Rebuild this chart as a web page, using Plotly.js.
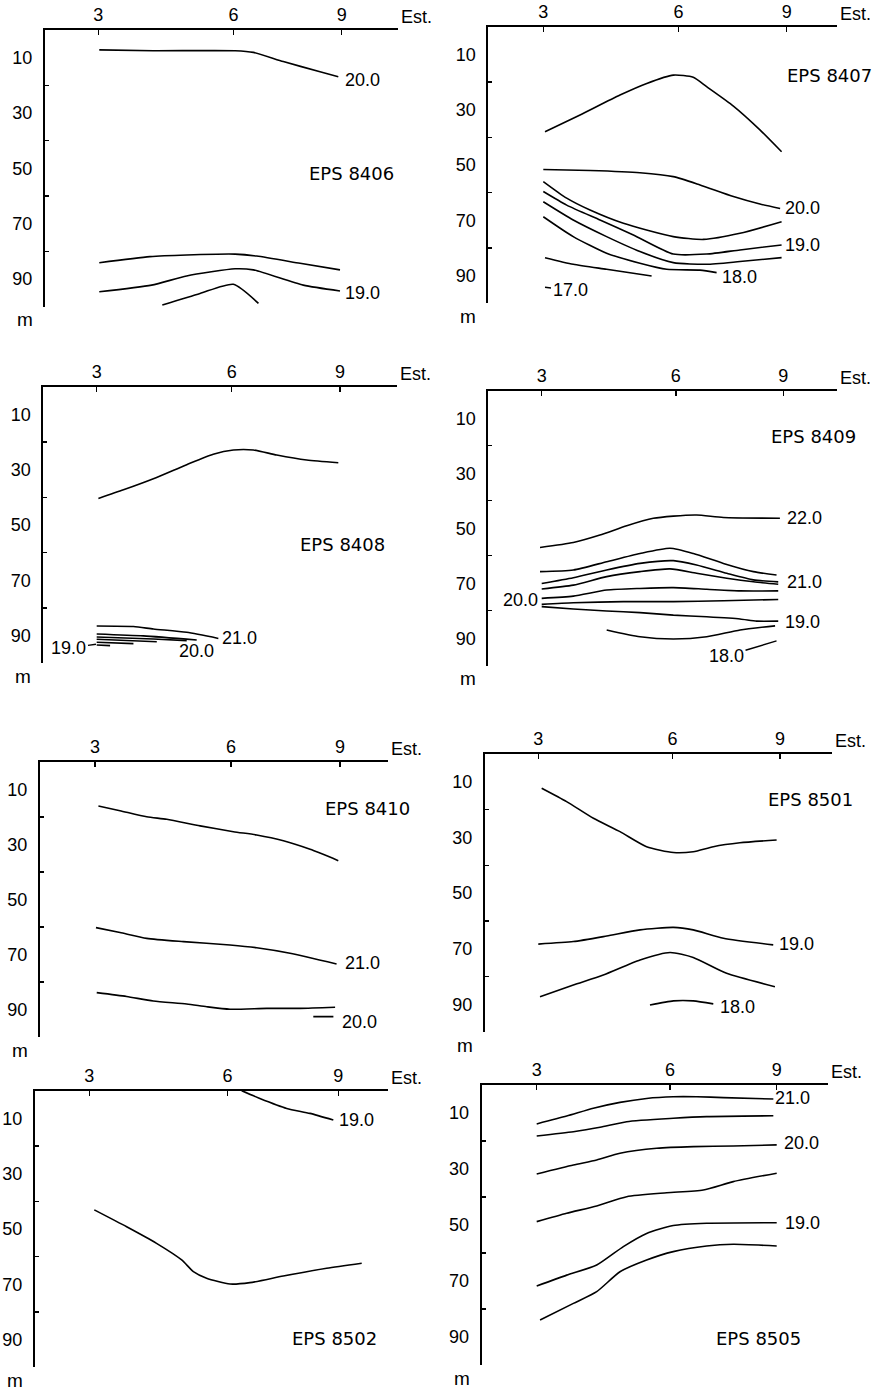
<!DOCTYPE html>
<html><head><meta charset="utf-8">
<script src="https://cdn.plot.ly/plotly-3.0.1.min.js"></script>
<style>html,body{margin:0;padding:0;background:#fff}#chart{width:880px;height:1390px}</style>
</head><body><div id="chart"></div>
<script>
// ---- Axes: stations along the section (position = % of distance station 3 -> station 9), depth in m
const stationLabels = ['3', '6', '9'];
const stationPos = [0, 55.5, 100];
const depthLabels = [10, 30, 50, 70, 90];
const depthMinor = [20, 40, 60, 80];
const cruiseNames = ['EPS 8406', 'EPS 8407', 'EPS 8408', 'EPS 8409', 'EPS 8410', 'EPS 8501', 'EPS 8502', 'EPS 8505'];

// ---- EPS 8406
const e8406_1x = [0.4, 22.6, 56.2, 63.7, 76.0, 91.1, 98.6];
const e8406_1d = [7.2, 7.5, 7.5, 8.1, 11.4, 15.1, 16.9];
const e8406_2x = [0.4, 21.2, 36.3, 56.2, 65.1, 82.9, 99.3];
const e8406_2d = [84.1, 81.9, 81.3, 81.0, 81.7, 84.3, 86.7];
const e8406_3x = [0.4, 21.9, 36.3, 56.2, 63.7, 84.2, 99.3];
const e8406_3d = [94.6, 92.2, 88.9, 86.3, 86.7, 92.2, 94.3];
const e8406_4x = [26.3, 41.8, 55.5, 65.8];
const e8406_4d = [99.4, 95.2, 91.9, 98.8];
const e8406_labT = ['20.0', '19.0'];
const e8406_labX = [100.5, 100.5];
const e8406_labD = [18.1, 95.2];

// ---- EPS 8407
const e8407_1x = [0.7, 15.1, 31.5, 42.5, 53.4, 61.6, 67.1, 78.1, 89.0, 97.9];
const e8407_1d = [38.0, 31.9, 24.7, 20.5, 17.5, 18.3, 21.7, 28.7, 37.3, 45.2];
const e8407_2x = [0, 19.2, 39.7, 53.4, 64.4, 78.1, 89.0, 97.3];
const e8407_2d = [51.6, 52.0, 52.8, 54.2, 57.2, 61.4, 64.1, 65.7];
const e8407_3x = [0, 9.6, 19.2, 32.9, 53.4, 65.8, 80.8, 97.9];
const e8407_3d = [56.0, 62.0, 66.3, 71.1, 75.9, 76.9, 74.7, 70.5];
const e8407_4x = [0, 9.6, 23.3, 37.0, 53.4, 67.1, 80.8, 97.9];
const e8407_4d = [59.6, 64.5, 69.9, 75.3, 82.2, 82.2, 80.7, 78.9];
const e8407_5x = [0, 12.3, 26.0, 39.7, 53.4, 67.1, 80.8, 97.9];
const e8407_5d = [63.3, 69.9, 75.9, 81.3, 85.3, 85.9, 84.9, 83.5];
const e8407_6x = [0, 12.3, 26.0, 39.7, 50.7, 64.4, 71.2];
const e8407_6d = [68.7, 75.9, 81.9, 85.5, 87.7, 88.0, 88.9];
const e8407_7x = [0.7, 12.3, 26.0, 44.5];
const e8407_7d = [83.5, 85.9, 87.7, 90.1];
const e8407_labT = ['20.0', '19.0', '18.0'];
const e8407_labX = [98.6, 98.6, 72.6];
const e8407_labD = [65.7, 78.9, 90.4];

// ---- EPS 8408
const e8408_1x = [0.7, 11.0, 23.3, 37.0, 47.9, 56.2, 64.4, 74.0, 86.3, 99.3];
const e8408_1d = [40.4, 37.3, 33.3, 28.2, 24.4, 22.9, 22.9, 24.7, 26.5, 27.5];
const e8408_2x = [0, 15.1, 23.3, 37.0, 50.0];
const e8408_2d = [86.5, 86.7, 87.6, 88.8, 91.0];
const e8408_3x = [0, 19.2, 41.1];
const e8408_3d = [89.4, 90.1, 91.6];
const e8408_4x = [0, 23.3, 37.0];
const e8408_4d = [90.5, 91.2, 91.8];
const e8408_5x = [0, 24.7];
const e8408_5d = [91.3, 92.2];
const e8408_6x = [0, 15.1];
const e8408_6d = [92.4, 92.9];
const e8408_7x = [0, 5.5];
const e8408_7d = [93.4, 93.6];
const e8408_labT = ['21.0', '20.0'];
const e8408_labX = [50.7, 33.0];
const e8408_labD = [91.0, 95.6];

// ---- EPS 8409
const e8409_1x = [-0.7, 13.1, 24.1, 35.2, 46.2, 54.5, 64.1, 75.2, 98.6];
const e8409_1d = [57.0, 55.2, 52.5, 49.1, 46.4, 45.6, 45.2, 46.1, 46.4];
const e8409_2x = [-0.7, 13.1, 26.9, 40.7, 53.1, 62.8, 75.2, 87.6, 97.2];
const e8409_2d = [65.8, 65.2, 62.2, 59.2, 57.3, 59.2, 62.8, 65.8, 67.0];
const e8409_3x = [0, 13.1, 26.9, 40.7, 54.5, 64.1, 76.6, 87.6, 97.9];
const e8409_3d = [70.1, 68.0, 65.2, 62.8, 61.8, 63.4, 66.4, 68.8, 69.5];
const e8409_4x = [0, 13.1, 26.9, 40.7, 53.1, 64.1, 76.6, 87.6, 97.9];
const e8409_4d = [72.1, 70.7, 67.6, 65.8, 64.8, 66.4, 68.2, 69.5, 70.4];
const e8409_5x = [0, 13.1, 26.9, 40.7, 54.5, 68.3, 82.1, 97.9];
const e8409_5d = [75.5, 74.7, 72.5, 71.9, 71.6, 72.2, 72.8, 72.8];
const e8409_6x = [0, 13.1, 33.8, 54.5, 75.2, 97.9];
const e8409_6d = [77.7, 77.1, 76.7, 76.7, 76.4, 75.9];
const e8409_7x = [0, 13.1, 26.9, 40.7, 54.5, 68.3, 82.1, 89.0, 97.9];
const e8409_7d = [78.5, 79.4, 80.1, 80.7, 81.6, 82.2, 83.0, 83.8, 83.8];
const e8409_8x = [26.9, 40.7, 54.5, 68.3, 82.1, 96.6];
const e8409_8d = [87.0, 89.5, 90.3, 89.5, 87.0, 85.5];
const e8409_labT = ['22.0', '21.0', '19.0'];
const e8409_labX = [100.7, 100.7, 100.0];
const e8409_labD = [46.4, 69.5, 84.0];

// ---- EPS 8410
const e8410_1x = [1.4, 10.2, 21.1, 29.3, 42.9, 56.5, 66.0, 76.9, 87.8, 99.3];
const e8410_1d = [16.1, 17.8, 20.0, 20.9, 23.3, 25.4, 26.6, 28.7, 31.8, 35.9];
const e8410_2x = [0.4, 10.2, 21.1, 36.1, 55.1, 66.0, 79.6, 98.6];
const e8410_2d = [60.2, 62.0, 64.1, 65.3, 66.5, 67.5, 69.5, 73.4];
const e8410_3x = [0.7, 12.9, 23.8, 37.4, 45.6, 55.1, 70.1, 83.7, 98.0];
const e8410_3d = [83.8, 85.2, 86.8, 87.9, 88.9, 89.8, 89.5, 89.5, 89.1];
const e8410_4x = [89.1, 97.3];
const e8410_4d = [92.5, 92.5];
const e8410_labT = ['21.0', '20.0'];
const e8410_labX = [101.4, 100.0];
const e8410_labD = [73.2, 94.3];

// ---- EPS 8501
const e8501_1x = [1.4, 11.7, 22.8, 33.8, 44.8, 55.9, 64.1, 72.4, 83.4, 98.6];
const e8501_1d = [12.3, 17.1, 23.1, 27.9, 33.3, 35.4, 35.1, 33.3, 31.9, 30.9];
const e8501_2x = [0, 14.5, 28.3, 42.1, 55.9, 64.1, 76.6, 97.2];
const e8501_2d = [68.3, 67.4, 65.4, 63.2, 62.3, 63.2, 66.2, 68.6];
const e8501_3x = [0.7, 14.5, 26.9, 42.1, 54.5, 64.1, 77.9, 97.9];
const e8501_3d = [87.2, 83.0, 79.4, 74.0, 71.3, 73.1, 78.8, 83.6];
const e8501_4x = [46.2, 55.9, 64.1, 72.4];
const e8501_4d = [90.2, 88.7, 88.7, 89.8];
const e8501_labT = ['19.0', '18.0'];
const e8501_labX = [98.6, 74.5];
const e8501_labD = [68.3, 90.8];

// ---- EPS 8502
const e8502_1x = [61.2, 68.5, 79.3, 88.6, 98.0];
const e8502_1d = [0, 2.8, 6.4, 8.2, 10.6];
const e8502_2x = [2.0, 15.0, 27.0, 37.1, 41.8, 47.1, 56.5, 64.5, 77.9, 95.3, 109.4];
const e8502_2d = [43.1, 49.2, 55.2, 61.2, 65.4, 67.8, 69.9, 69.4, 67.0, 64.2, 62.4];
const e8502_labT = ['19.0'];
const e8502_labX = [99.3];
const e8502_labD = [10.6];

// ---- EPS 8505
const e8505_1x = [0, 12.5, 23.6, 34.7, 45.8, 56.9, 66.7, 77.8, 98.6];
const e8505_1d = [13.9, 11.1, 8.3, 6.2, 4.8, 4.2, 4.2, 4.5, 5.0];
const e8505_2x = [0, 15.3, 26.4, 37.5, 56.9, 70.8, 98.6];
const e8505_2d = [18.2, 16.7, 15.1, 13.1, 11.9, 11.3, 11.0];
const e8505_3x = [0, 15.3, 25.0, 34.7, 50.0, 65.3, 81.9, 100];
const e8505_3d = [31.8, 28.6, 26.8, 24.4, 22.6, 22.0, 21.8, 21.4];
const e8505_4x = [0, 12.5, 25.0, 37.5, 54.2, 69.4, 81.9, 100];
const e8505_4d = [48.8, 45.8, 43.2, 39.9, 38.5, 37.5, 34.5, 31.5];
const e8505_5x = [0, 12.5, 25.0, 36.1, 45.8, 56.9, 70.8, 100];
const e8505_5d = [71.8, 67.9, 64.3, 57.7, 53.0, 50.2, 49.4, 49.2];
const e8505_6x = [1.4, 15.3, 25.0, 34.7, 45.8, 56.9, 70.8, 81.9, 100];
const e8505_6d = [83.9, 78.0, 73.8, 66.7, 62.5, 59.5, 57.5, 56.9, 57.5];
const e8505_labT = ['21.0', '20.0', '19.0'];
const e8505_labX = [98.6, 102.0, 102.8];
const e8505_labD = [4.8, 20.8, 49.2];

// ---- leader-line labels (text, head x, head depth, text offset px)
const leaders = [
  {panel: 1, text: '17.0', x: 0.7, d: 94.2, ax: 25, ay: 3},
  {panel: 2, text: '19.0', x: -0.3, d: 93.1, ax: -27, ay: 4},
  {panel: 3, text: '18.0', x: 97.2, d: 91.0, ax: -50, ay: 15}
];

// ---- assemble
const panels = [
  {lines: [[e8406_1x, e8406_1d], [e8406_2x, e8406_2d], [e8406_3x, e8406_3d], [e8406_4x, e8406_4d]], lab: [e8406_labT, e8406_labX, e8406_labD]},
  {lines: [[e8407_1x, e8407_1d], [e8407_2x, e8407_2d], [e8407_3x, e8407_3d], [e8407_4x, e8407_4d], [e8407_5x, e8407_5d], [e8407_6x, e8407_6d], [e8407_7x, e8407_7d]], lab: [e8407_labT, e8407_labX, e8407_labD]},
  {lines: [[e8408_1x, e8408_1d], [e8408_2x, e8408_2d], [e8408_3x, e8408_3d], [e8408_4x, e8408_4d], [e8408_5x, e8408_5d], [e8408_6x, e8408_6d], [e8408_7x, e8408_7d]], lab: [e8408_labT, e8408_labX, e8408_labD]},
  {lines: [[e8409_1x, e8409_1d], [e8409_2x, e8409_2d], [e8409_3x, e8409_3d], [e8409_4x, e8409_4d], [e8409_5x, e8409_5d], [e8409_6x, e8409_6d], [e8409_7x, e8409_7d], [e8409_8x, e8409_8d]], lab: [e8409_labT, e8409_labX, e8409_labD], extra: {text: '20.0', x: -0.7, d: 76.1, anchor: 'right'}},
  {lines: [[e8410_1x, e8410_1d], [e8410_2x, e8410_2d], [e8410_3x, e8410_3d], [e8410_4x, e8410_4d]], lab: [e8410_labT, e8410_labX, e8410_labD]},
  {lines: [[e8501_1x, e8501_1d], [e8501_2x, e8501_2d], [e8501_3x, e8501_3d], [e8501_4x, e8501_4d]], lab: [e8501_labT, e8501_labX, e8501_labD]},
  {lines: [[e8502_1x, e8502_1d], [e8502_2x, e8502_2d]], lab: [e8502_labT, e8502_labX, e8502_labD]},
  {lines: [[e8505_1x, e8505_1d], [e8505_2x, e8505_2d], [e8505_3x, e8505_3d], [e8505_4x, e8505_4d], [e8505_5x, e8505_5d], [e8505_6x, e8505_6d]], lab: [e8505_labT, e8505_labX, e8505_labD]}
];

// panel geometry in page pixels: axis start/end, station 3 & 9 px, depth 0 & 100 px, cruise label centre
const W = 880, H = 1390;
const geom = [
  {xs: 45, xe: 398, p3: 98.3, p9: 341.7, y0: 30, y100: 306.7, lx: 351, ly: 174},
  {xs: 488.3, xe: 836.7, p3: 543.3, p9: 786.7, y0: 26.7, y100: 303.3, lx: 829, ly: 76},
  {xs: 43.3, xe: 396.7, p3: 96.7, p9: 340, y0: 386.7, y100: 663.3, lx: 342, ly: 544},
  {xs: 488.3, xe: 836.7, p3: 541.7, p9: 783.3, y0: 390.7, y100: 665.7, lx: 813, ly: 437},
  {xs: 40, xe: 388.3, p3: 95, p9: 340, y0: 761.7, y100: 1037.3, lx: 367, ly: 808},
  {xs: 485, xe: 831.7, p3: 538.3, p9: 780, y0: 754, y100: 1032.3, lx: 810, ly: 799},
  {xs: 35, xe: 388.3, p3: 89.3, p9: 338.3, y0: 1090.7, y100: 1367.3, lx: 334, ly: 1338},
  {xs: 481.7, xe: 828.3, p3: 536.7, p9: 776.7, y0: 1085, y100: 1365, lx: 758, ly: 1338}
];

const FONT = 'Liberation Sans, Arial, sans-serif';
const FS = 18;
const ink = '#000';
const traces = [];
const annotations = [];
const layout = {
  width: W, height: H, margin: {l: 0, r: 0, t: 0, b: 0},
  paper_bgcolor: '#fff', plot_bgcolor: 'rgba(0,0,0,0)', showlegend: false,
  font: {family: FONT, size: FS, color: ink}
};

panels.forEach((p, i) => {
  const k = i + 1, g = geom[i];
  const xn = k === 1 ? 'x' : 'x' + k, yn = k === 1 ? 'y' : 'y' + k;
  const xk = k === 1 ? 'xaxis' : 'xaxis' + k, yk = k === 1 ? 'yaxis' : 'yaxis' + k;
  const u = (g.p9 - g.p3) / 100;
  layout[xk] = {
    domain: [g.xs / W, g.xe / W], range: [(g.xs - g.p3) / u, (g.xe - g.p3) / u],
    anchor: yn, side: 'top', showline: true, linecolor: ink, linewidth: 2,
    tickmode: 'array', tickvals: stationPos, ticktext: stationLabels,
    ticks: 'inside', ticklen: 5, tickwidth: 1.5, tickcolor: ink,
    showgrid: false, zeroline: false, fixedrange: true,
    tickfont: {family: FONT, size: FS, color: ink}
  };
  layout[yk] = {
    domain: [1 - g.y100 / H, 1 - g.y0 / H], range: [100, 0],
    anchor: xn, showline: true, linecolor: ink, linewidth: 2,
    tickmode: 'array', tickvals: depthLabels, ticks: '',
    minor: {tickmode: 'array', tickvals: depthMinor, ticks: 'inside', ticklen: 4, tickwidth: 1.5, tickcolor: ink, showgrid: false},
    ticklabelstandoff: 7,
    showgrid: false, zeroline: false, fixedrange: true,
    tickfont: {family: FONT, size: FS, color: ink}
  };
  p.lines.forEach(([x, d]) => {
    traces.push({
      type: 'scatter', mode: 'lines', x: x, y: d, xaxis: xn, yaxis: yn,
      line: {color: ink, width: 1.6, shape: 'spline', smoothing: 0.6},
      hoverinfo: 'skip', showlegend: false, cliponaxis: false
    });
  });
  const [T, X, D] = p.lab;
  T.forEach((t, j) => {
    annotations.push({xref: xn, yref: yn, x: X[j], y: D[j], text: t, showarrow: false,
      xanchor: 'left', yanchor: 'middle', font: {family: FONT, size: FS, color: ink}});
  });
  if (p.extra) {
    annotations.push({xref: xn, yref: yn, x: p.extra.x, y: p.extra.d, text: p.extra.text, showarrow: false,
      xanchor: p.extra.anchor, yanchor: 'middle', font: {family: FONT, size: FS, color: ink}});
  }
  // cruise name
  annotations.push({xref: 'paper', yref: 'paper', x: g.lx / W, y: 1 - g.ly / H, text: cruiseNames[i],
    showarrow: false, xanchor: 'center', yanchor: 'middle', font: {family: 'DejaVu Sans, sans-serif', size: 18, color: ink}});
  // "Est." and "m"
  annotations.push({xref: 'paper', yref: 'paper', x: (g.xe + 1) / W, y: 1 - (g.y0 - 1) / H, text: 'Est.',
    showarrow: false, xanchor: 'left', yanchor: 'bottom', font: {family: FONT, size: FS, color: ink}});
  annotations.push({xref: 'paper', yref: 'paper', x: (g.xs - 20) / W, y: 1 - (g.y100 + 13) / H, text: 'm',
    showarrow: false, xanchor: 'center', yanchor: 'middle', font: {family: FONT, size: 19, color: ink}});
});

leaders.forEach(l => {
  const k = l.panel + 1;
  const xn = k === 1 ? 'x' : 'x' + k, yn = k === 1 ? 'y' : 'y' + k;
  annotations.push({xref: xn, yref: yn, x: l.x, y: l.d, text: l.text, showarrow: true,
    arrowhead: 0, arrowwidth: 1.4, arrowcolor: ink, ax: l.ax, ay: l.ay, standoff: 0,
    font: {family: FONT, size: FS, color: ink}});
});

layout.annotations = annotations;
Plotly.newPlot('chart', traces, layout, {staticPlot: true, displayModeBar: false});
</script>
</body></html>
